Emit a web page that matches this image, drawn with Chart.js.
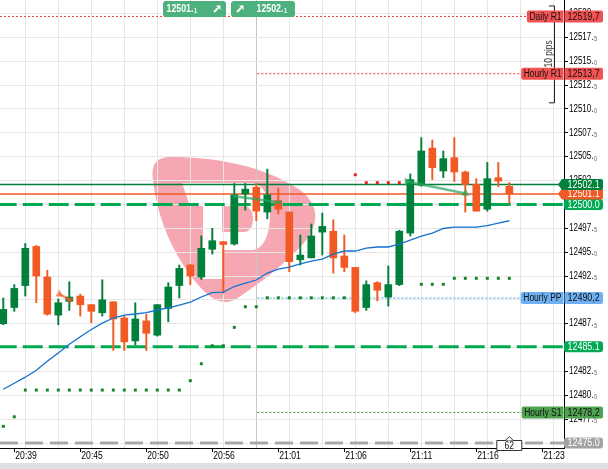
<!DOCTYPE html>
<html>
<head>
<meta charset="utf-8">
<script src="https://cdn.jsdelivr.net/npm/chart.js@4.4.1/dist/chart.umd.min.js"></script>
<style>
  html, body { margin: 0; padding: 0; background: #fff; overflow: hidden; }
  canvas { display: block; }
</style>
</head>
<body>
<canvas id="myChart" width="608" height="469"></canvas>
<script>
// candles, one per bar (left to right)
const openP = [
  12487.5, 12489.2, 12491.5, 12495.6, 12492.4, 12488.4, 12489.85, 12490.4, 12489.5, 12488.65,
  12489.8, 12488.1, 12485.7, 12487.8, 12486.3, 12489.1, 12491.5, 12493.65, 12492.4, 12495.3,
  12496.1, 12495.85, 12501.1, 12501.8, 12499.2, 12500.4, 12499.2, 12494.2, 12494.4, 12497.1,
  12497.2, 12494.6, 12493.4, 12489.2, 12491.8, 12490.3, 12491.6, 12497.0, 12502.0, 12505.9,
  12503.5, 12504.9, 12503.4, 12502.1, 12499.5, 12502.8, 12501.9,
];
const highP = [
  12490.2, 12491.6, 12495.9, 12495.7, 12493.1, 12490.1, 12491.9, 12490.6, 12489.5, 12492.1,
  12489.8, 12488.3, 12489.7, 12488.5, 12489.5, 12491.8, 12493.65, 12493.7, 12496.7, 12497.5,
  12496.1, 12502.2, 12502.2, 12502.2, 12503.7, 12501.7, 12499.2, 12496.8, 12497.95, 12499.1,
  12498.4, 12496.8, 12493.4, 12492.0, 12491.9, 12493.55, 12497.3, 12503.2, 12507.0, 12506.75,
  12505.6, 12507.0, 12503.5, 12502.7, 12504.4, 12504.4, 12502.3,
];
const lowP = [
  12487.4, 12488.8, 12490.4, 12489.7, 12488.4, 12487.4, 12488.9, 12488.3, 12487.6, 12488.3,
  12484.7, 12484.7, 12485.3, 12484.7, 12486.2, 12487.7, 12490.2, 12491.6, 12492.15, 12494.8,
  12490.7, 12495.75, 12499.4, 12498.3, 12498.5, 12499.0, 12492.95, 12493.65, 12494.4, 12494.7,
  12492.8, 12492.95, 12488.65, 12488.9, 12489.9, 12489.35, 12491.5, 12496.7, 12501.9, 12502.6,
  12502.8, 12502.4, 12499.2, 12499.3, 12499.3, 12501.85, 12500.1,
];
const closeP = [
  12489.0, 12491.2, 12495.4, 12492.5, 12488.5, 12489.7, 12490.3, 12489.5, 12488.8, 12490.0,
  12488.0, 12485.6, 12488.0, 12486.5, 12489.5, 12491.35, 12493.3, 12492.5, 12495.4, 12496.2,
  12495.8, 12501.0, 12501.6, 12499.3, 12501.0, 12499.5, 12494.0, 12494.7, 12496.7, 12497.7,
  12494.4, 12493.4, 12488.8, 12491.6, 12491.0, 12491.6, 12497.2, 12502.6, 12505.6, 12503.85,
  12504.8, 12503.4, 12502.1, 12499.3, 12502.7, 12502.45, 12501.1,
];

// moving average (blue)
const maLine = [
  12480.64, 12481.27, 12481.90, 12482.62, 12483.56, 12484.43, 12485.35, 12486.14, 12486.89, 12487.57,
  12488.10, 12488.41, 12488.52, 12488.67, 12488.94, 12489.15, 12489.46, 12489.77, 12490.30, 12490.77,
  12490.82, 12491.40, 12491.76, 12492.08, 12492.81, 12493.23, 12493.44, 12493.76, 12494.07, 12494.28,
  12494.80, 12495.12, 12495.12, 12495.43, 12495.54, 12495.54, 12495.85, 12496.27, 12496.69, 12497.00,
  12497.48, 12497.63, 12497.63, 12497.63, 12497.79, 12498.05, 12498.29,
];

// parabolic SAR dots, below (green) and above (red) price
const sarBelow = [
  12476.75, 12477.75, 12480.55, 12480.55, 12480.55, 12480.55, 12480.55, 12480.55, 12480.55, 12480.55,
  12480.55, 12480.55, 12480.55, 12480.55, 12480.55, 12480.55, 12480.55, 12481.53, 12483.31, 12485.19,
  12485.19, 12487.12, 12489.28, 12489.28, 12490.22, 12490.22, 12490.22, 12490.22, 12490.22, 12490.22,
  12490.22, 12490.22, null, null, null, null, null, null, 12491.63, 12491.63,
  12491.63, 12492.26, 12492.26, 12492.26, 12492.26, 12492.26, 12492.26,
];
const sarAbove = [
  null, null, null, null, null, null, null, null, null, null,
  null, null, null, null, null, null, null, null, null, null,
  null, null, null, null, null, null, null, null, null, null,
  null, null, 12503.11, 12502.28, 12502.28, 12502.28, 12502.28, 12502.28, null, null,
  null, null, null, null, null, null, null,
];

// time axis: bar index of each label
const timeTicks = [1, 7, 13, 19, 25, 31, 37, 43, 49];
const timeLabels = ["20:39", "20:45", "20:50", "20:56", "21:01", "21:06", "21:11", "21:16", "21:23"];

// pivot levels
const pivotNames = ["Daily R1", "Hourly R1", "Hourly PP", "Hourly S1"];
const pivotPrices = [12519.7, 12513.7, 12490.2, 12478.2];
const pivotText = ["12519,7", "12513,7", "12490,2", "12478,2"];
const pivotStart = [-0.3, 23.1, 23.1, 23.1];

// price lines: ask, bid, two levels and the bottom one
const askPrice = 12502.1;
const bidPrice = 12501.1;
const levelPrices = [12500.0, 12485.1];
const bottomLevel = 12475.0;

// trade markers [bar, price]
const orangeTrade = [[5.09, 12490.6], [6.06, 12490.0]];
const greenTrade = [[36.7, 12502.4], [42.03, 12501.15]];
const greenTrade2 = [[21.0, 12500.85], [25.2, 12500.2]];

const pipsRange = [12520.85, 12510.7];
const countdown = "62";

const X_MIN = -0.3, X_MAX = 50.9727;
const Y_MIN = 12474.48, Y_MAX = 12521.42;

const UP = "#00803b";
const DOWN = "#f15a24";
const FONT = "'Liberation Sans', Arial, sans-serif";
const pivotColors = ["#f25252", "#f25252", "#6fb0f2", "#4fa24f"];
const pivotLines = ["#ee3b3b", "#ee3b3b", "#4aa3f0", "#3c963c"];

const idx = openP.map((_, i) => i);
const candleColor = ctx => closeP[ctx.dataIndex] >= openP[ctx.dataIndex] ? UP : DOWN;
const gridTick = v => (v - 2) % 3 === 0;

function hLine(price, from, color, width, dash, offset) {
  return {
    type: "line",
    data: [{ x: from, y: price }, { x: X_MAX, y: price }],
    borderColor: color,
    borderWidth: width,
    borderDash: dash || [],
    borderDashOffset: offset || 0,
    pointRadius: 0,
    order: 10,
  };
}

function trade(points, color, rotations, radius) {
  return {
    type: "line",
    data: points.map(p => ({ x: p[0], y: p[1] })),
    borderColor: color,
    backgroundColor: color,
    borderWidth: 2.5,
    pointStyle: "triangle",
    pointRotation: rotations,
    pointRadius: radius,
    pointBorderWidth: 0,
    order: 0,
  };
}

const datasets = [
  // levels
  ...pivotPrices.map((p, k) => hLine(p, pivotStart[k], pivotLines[k], 1, [2, 2])),
  hLine(askPrice, X_MIN, "#00803b", 1.5),
  hLine(bidPrice, X_MIN, "#f15a24", 1.5),
  ...levelPrices.map(p => hLine(p, X_MIN, "#00aa50", 3, [20, 6], 3.3)),
  hLine(bottomLevel, X_MIN, "#a9a9a9", 3, [18, 7]),
  // wicks
  {
    type: "bar",
    data: idx.map(i => ({ x: i, y: [lowP[i], highP[i]] })),
    backgroundColor: candleColor,
    barThickness: 1.3,
    grouped: false,
    minBarLength: 1,
    order: 4,
  },
  // bodies
  {
    type: "bar",
    data: idx.map(i => ({ x: i, y: [openP[i], closeP[i]] })),
    backgroundColor: candleColor,
    barThickness: 7,
    grouped: false,
    minBarLength: 1.5,
    order: 3,
  },
  // SAR
  {
    type: "line",
    data: idx.map(i => ({ x: i, y: sarBelow[i] })),
    showLine: false,
    pointRadius: 2.1,
    pointStyle: "rect",
    pointBackgroundColor: "#17842a",
    pointBorderWidth: 0,
    order: 2,
  },
  {
    type: "line",
    data: idx.map(i => ({ x: i, y: sarAbove[i] })),
    showLine: false,
    pointRadius: 2.1,
    pointStyle: "rect",
    pointBackgroundColor: "#f02020",
    pointBorderWidth: 0,
    order: 5,
  },
  // moving average
  {
    type: "line",
    data: idx.map(i => ({ x: i, y: maLine[i] })),
    borderColor: "#1472cf",
    borderWidth: 1.3,
    pointRadius: 0,
    tension: 0,
    order: 1,
  },
  trade(orangeTrade, "rgba(241,90,36,0.65)", [0, 180], 4.5),
  trade(greenTrade, "rgba(40,165,95,0.7)", [90, 0], 4.5),
  trade(greenTrade2, "rgba(40,165,95,0.7)", [90, 0], 2.5),
];

// text squeezed horizontally, the platform font is a narrow one
function nText(c, s, x, y, font, color, sx, align) {
  c.save();
  c.font = font;
  c.fillStyle = color;
  c.textAlign = "left";
  c.textBaseline = "middle";
  const w = c.measureText(s).width * sx;
  const x0 = align === "center" ? x - w / 2 : align === "right" ? x - w : x;
  c.translate(x0, y);
  c.scale(sx, 1);
  c.fillText(s, 0, 0);
  c.restore();
  return w;
}

function splitNum(c, s, x, y, big, small, color, smallColor, sx) {
  const w = nText(c, s.slice(0, -1), x, y, big, color, sx);
  nText(c, s.slice(-1), x + w + 0.5, y + 2, small, smallColor, sx);
}

function roundBox(c, x1, y1, x2, y2, r, fill) {
  c.fillStyle = fill;
  c.beginPath();
  c.roundRect(x1, y1, x2 - x1, y2 - y1, r);
  c.fill();
}

function arrowBox(c, x1, y, x2, h, fill) {
  c.fillStyle = fill;
  c.beginPath();
  c.moveTo(x1, y);
  c.lineTo(x1 + 4, y - h / 2);
  c.lineTo(x2 - 2, y - h / 2);
  c.quadraticCurveTo(x2, y - h / 2, x2, y - h / 2 + 2);
  c.lineTo(x2, y + h / 2 - 2);
  c.quadraticCurveTo(x2, y + h / 2, x2 - 2, y + h / 2);
  c.lineTo(x1 + 4, y + h / 2);
  c.closePath();
  c.fill();
}

function upRightArrow(c, x, y, color) {
  c.save();
  c.strokeStyle = color;
  c.fillStyle = color;
  c.lineWidth = 1.8;
  c.beginPath();
  c.moveTo(x - 3, y + 3);
  c.lineTo(x + 1, y - 1);
  c.stroke();
  c.beginPath();
  c.moveTo(x + 3.5, y - 3.5);
  c.lineTo(x - 1, y - 3.5);
  c.lineTo(x + 3.5, y + 1);
  c.closePath();
  c.fill();
  c.restore();
}

function drawLogo(c) {
  const pink = "#f6a7b1";
  c.save();
  c.fillStyle = pink;
  c.beginPath();
  c.moveTo(153, 180);
  c.bezierCurveTo(151, 164, 156, 157, 172, 157);
  c.bezierCurveTo(215, 157, 265, 166, 300, 190);
  c.bezierCurveTo(320, 205, 320, 225, 303, 244);
  c.bezierCurveTo(285, 264, 258, 285, 236, 299);
  c.bezierCurveTo(222, 307, 210, 298, 200, 287);
  c.bezierCurveTo(178, 262, 158, 225, 153, 180);
  c.closePath();
  c.fill();
  // white P
  c.fillStyle = "#fff";
  c.beginPath();
  c.moveTo(182, 183);
  c.lineTo(252, 183);
  c.bezierCurveTo(276, 183, 276, 250, 252, 250);
  c.lineTo(222, 250);
  c.lineTo(222, 279);
  c.lineTo(203, 279);
  c.lineTo(203, 206);
  c.lineTo(190, 206);
  c.closePath();
  c.fill();
  c.fillStyle = pink;
  c.beginPath();
  c.moveTo(222, 206);
  c.lineTo(244, 206);
  c.bezierCurveTo(256, 206, 256, 232, 244, 232);
  c.lineTo(222, 232);
  c.closePath();
  c.fill();
  c.restore();
}

const decor = {
  id: "decor",
  beforeDraw(chart) {
    const c = chart.ctx;
    c.save();
    c.fillStyle = "#fff";
    c.fillRect(0, 0, chart.width, chart.height);
    c.fillStyle = "#dde1e4";
    c.fillRect(0, 463, chart.width, chart.height - 463);
    drawLogo(c);
    c.restore();
  },
  afterDraw(chart) {
    const c = chart.ctx;
    const ys = chart.scales.y;
    const xs = chart.scales.x;
    const ax = ys.left;
    c.save();

    // time labels
    timeTicks.forEach((v, k) => {
      nText(c, timeLabels[k], xs.getPixelForValue(v) + 1, 456.5, "10.5px " + FONT, "#000", 0.82);
    });

    // price axis labels
    ys.ticks.forEach(t => {
      const py = ys.getPixelForValue(t.value);
      splitNum(c, t.value.toFixed(1), ax + 5, py, "10px " + FONT, "7px " + FONT, "#000", "#666", 0.8);
    });

    // 10 pips bracket
    const p1 = ys.getPixelForValue(pipsRange[0]), p2 = ys.getPixelForValue(pipsRange[1]);
    c.strokeStyle = "#222";
    c.lineWidth = 1;
    c.beginPath();
    c.moveTo(549, p1 + 0.5); c.lineTo(554.5, p1 + 0.5); c.lineTo(554.5, p2 + 0.5); c.lineTo(549, p2 + 0.5);
    c.stroke();
    c.save();
    c.translate(549, (p1 + p2) / 2);
    c.rotate(-Math.PI / 2);
    nText(c, "10 pips", 0, 0, "10px " + FONT, "#333", 0.85, "center");
    c.restore();

    // pivot labels
    pivotNames.forEach((name, k) => {
      const py = ys.getPixelForValue(pivotPrices[k]);
      c.font = "10px " + FONT;
      const w = c.measureText(name).width * 0.85;
      roundBox(c, ax - w - 5, py - 6, ax - 0.5, py + 6, [2, 0, 0, 2], pivotColors[k]);
      roundBox(c, ax + 0.5, py - 6, ax + 39, py + 6, 2, pivotColors[k]);
      nText(c, name, ax - w - 2.5, py + 0.5, "10px " + FONT, "#111", 0.85);
      nText(c, pivotText[k], ax + 3.5, py + 0.5, "10.5px " + FONT, "#111", 0.85);
    });

    // price line labels
    const lab = (price, fill, arrow) => {
      const py = ys.getPixelForValue(price);
      if (arrow) arrowBox(c, ax - 6, py, ax + 39, 11, fill);
      else roundBox(c, ax, py - 5.5, ax + 39, py + 5.5, 3, fill);
      nText(c, price.toFixed(1), ax + 3.5, py + 0.5, "10.5px " + FONT, "#fff", 0.85);
    };
    lab(bottomLevel, "#a3a3a3", false);
    levelPrices.forEach(p => lab(p, "#00aa55", false));
    lab(bidPrice, DOWN, true);
    lab(askPrice, UP, true);

    // countdown box under the last bar
    const bx = xs.getPixelForValue(openP.length - 1);
    c.fillStyle = "#fff";
    c.strokeStyle = "#333";
    c.lineWidth = 1;
    c.beginPath();
    c.rect(bx - 12.5, 440.5, 25, 10);
    c.fill();
    c.stroke();
    c.beginPath();
    c.moveTo(bx - 4, 440.5); c.lineTo(bx, 436.5); c.lineTo(bx + 4, 440.5);
    c.fill();
    c.stroke();
    nText(c, countdown, bx, 446, "10px " + FONT, "#111", 0.85, "center");

    // top quote buttons
    roundBox(c, 163, 1, 226, 17, 3, "#4db17d");
    roundBox(c, 231, 1, 295, 17, 3, "#4db17d");
    splitNum(c, bidPrice.toFixed(1), 166.5, 9, "bold 11px " + FONT, "bold 7px " + FONT, "#fff", "#fff", 0.8);
    splitNum(c, askPrice.toFixed(1), 256.5, 9, "bold 11px " + FONT, "bold 7px " + FONT, "#fff", "#fff", 0.8);
    upRightArrow(c, 217, 9, "#fff");
    upRightArrow(c, 240, 9, "#fff");
    c.restore();
  },
};

const config = {
  type: "bar",
  data: { datasets: datasets },
  options: {
    responsive: false,
    animation: false,
    devicePixelRatio: 1,
    events: [],
    layout: { padding: 0, autoPadding: false },
    plugins: { legend: { display: false }, tooltip: { enabled: false } },
    scales: {
      x: {
        type: "linear",
        min: X_MIN,
        max: X_MAX,
        offset: false,
        afterBuildTicks: s => {
          const vals = [...timeTicks];
          for (let v = 2; v <= 50; v += 3) vals.push(v);
          vals.sort((a, b) => a - b);
          s.ticks = vals.map(v => ({ value: v }));
        },
        afterFit: s => { s.height = 21; },
        grid: {
          offset: false,
          color: ctx => {
            const v = ctx.tick ? ctx.tick.value : null;
            if (!gridTick(v)) return "rgba(0,0,0,0)";
            return v === 23 ? "#c6c6c6" : "#e6e6e6";
          },
          tickColor: ctx => (ctx.tick && gridTick(ctx.tick.value)) ? "rgba(0,0,0,0)" : "#000",
          tickLength: 4,
        },
        border: { color: "#000", width: 1 },
        ticks: { display: false, autoSkip: false },
      },
      y: {
        type: "linear",
        position: "right",
        min: Y_MIN,
        max: Y_MAX,
        afterBuildTicks: s => {
          const vals = [];
          for (let v = 12475; v <= 12520.01; v += 2.5) vals.push({ value: v });
          s.ticks = vals;
        },
        afterFit: s => { s.width = 44; },
        grid: { color: "#e6e6e6", tickColor: "#000", tickLength: 4 },
        border: { color: "#000", width: 1 },
        ticks: { display: false },
      },
    },
  },
  plugins: [decor],
};

const myChart = new Chart(document.getElementById("myChart"), config);
</script>
</body>
</html>
